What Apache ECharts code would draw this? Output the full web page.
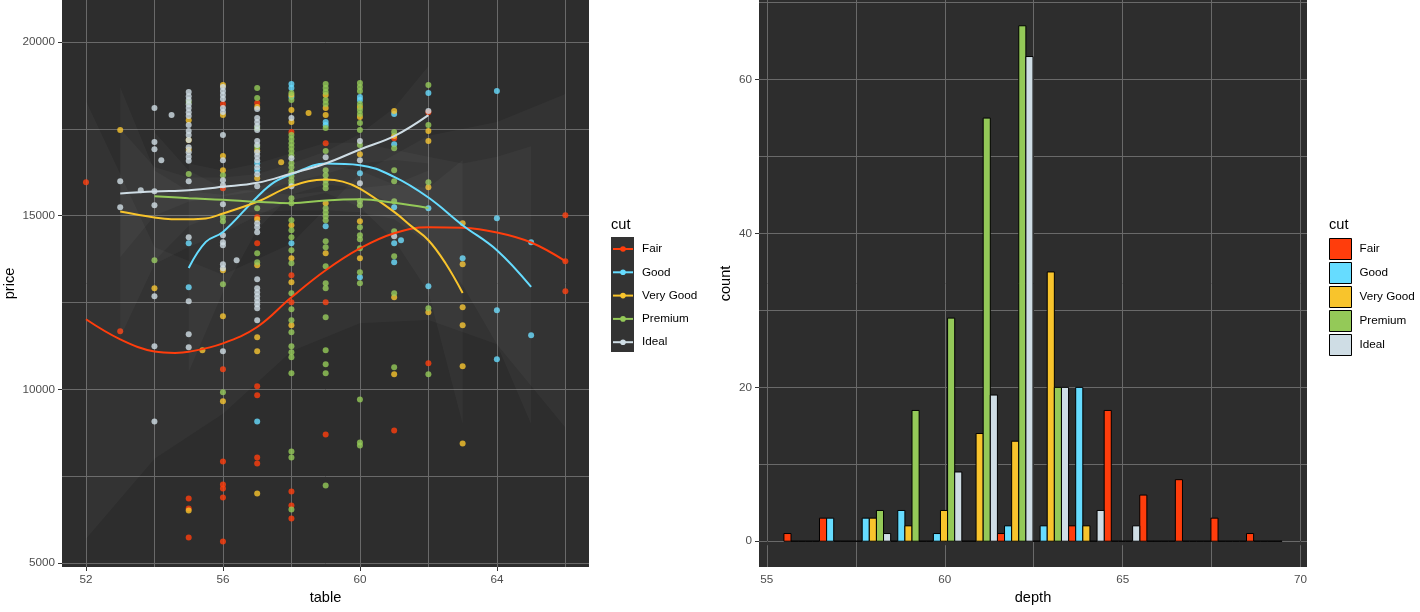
<!DOCTYPE html>
<html lang="en">
<head>
  <meta charset="UTF-8">
  <title>table / depth by cut</title>
  <script src="https://cdn.jsdelivr.net/npm/echarts@6/dist/echarts.min.js"></script>
  <style>
    html, body { margin: 0; padding: 0; background: #fff; }
    #main { width: 1420px; height: 612px; }
  </style>
</head>
<body>
<div id="main"></div>
<script>
  // categories
  const cuts = ['Fair', 'Good', 'Very Good', 'Premium', 'Ideal'];
  const cutColors = ['#ff3d0c', '#66dcff', '#f8c42c', '#94c958', '#cfdde5'];

  // left panel: points [table, price]
  const fairPts = [[52,15965],[53,11671],[55,6858],[55,6570],[55,5734],[56,18213],[56,15792],[56,10576],[56,7924],[56,7262],[56,7146],[56,6887],[56,5619],
    [57,18242],[57,14957],[57,14207],[57,10086],[57,9827],[57,8040],[57,7867],[58,17406],[58,13285],[58,12507],[58,7060],[58,6656],[58,6282],
    [59,17089],[59,12507],[59,8702],[61,17233],[61,8817],[62,17980],[62,10749],[66,15014],[66,13688],[66,12824]];
  const goodPts = [[55,14207],[55,12939],[57,16513],[57,16311],[57,9077],[58,18790],[58,18674],[58,18415],[58,14207],[59,17694],[59,17608],[59,14697],
    [60,18415],[60,18328],[60,16225],[60,13227],[61,17925],[61,17060],[61,15245],[61,14207],[61,13660],[61.2,14294],[62,18530],[62,15216],[62,12968],
    [63,13775],[64,18588],[64,14928],[64,12276],[64,10864],[65,14236],[65,11555]];
  const veryGoodPts = [[53,17464],[54,12910],[55,17750],[55,17180],[55,16900],[55.4,11123],[55,6513],[56,18761],[56,17896],[56,16715],[56,16311],[56,13429],
    [56,12103],[56,9654],[57,18127],[57,16887],[57,16081],[57,14899],[57,13573],[57,11498],[57,11095],[57,7002],[58,18473],[58,18040],[58,17694],
    [58,14726],[58,13775],[58,13083],[58,11844],[58.5,17954],[57.7,16542],[59,18473],[59,18098],[59,17900],[59,15360],[59,13919],[60,18127],[60,17839],
    [60,16772],[60,14841],[60,13775],[61,18011],[61,17291],[61,12651],[61,10432],[62,17435],[62,17147],[62,15821],[62,12219],[63,14784],[63,13602],
    [63,12363],[63,11844],[63,10662],[63,8443]];
  const premiumPts = [[54,13717],[55,18270],[55,16200],[56,16167],[56,14957],[56,14841],[56,13026],[56,9913],
    [57,18674],[57,18386],[57,17522],[57,16974],[57,15216],[57,13919],[57,13660],
    [58,18530],[58,18328],[58,17320],[58,17205],[58,17089],[58,16974],[58,16859],[58,16743],[58,16513],[58,16398],[58,16253],[58,16138],[58,16023],
    [58,15936],[58,15504],[58,15360],[58,14870],[58,14582],[58,14380],[58,14005],[58,13631],[58,12766],[58,12305],[58,11988],[58,11642],[58,11239],
    [58,11066],[58,10922],[58,10461],[58,8213],[58,8040],[58,6541],
    [59,18790],[59,18674],[59,18559],[59,18328],[59,18213],[59,17522],[59,16859],[59,16311],[59,16167],[59,16023],[59,15908],[59,15792],[59,15216],
    [59,15101],[59,14985],[59,14870],[59,14265],[59,14092],[59,13544],[59,13054],[59,12910],[59,12074],[59,11123],[59,10720],[59,10461],[59,7233],
    [60,18818],[60,18703],[60,18588],[60,18213],[60,18040],[60,17925],[60,17666],[60,17464],[60,17032],[60,15418],[60,15302],[60,14668],[60,14438],
    [60,14323],[60,14063],[60,13371],[60,13054],[60,9711],[60,8472],[60,8386],
    [61,17406],[61,16945],[61,16311],[61,15994],[61,15418],[61,14553],[61,13833],[61,12766],[61,10633],
    [62,18761],[62,17608],[62,15965],[62,12334],[62,10432]];
  const idealPts = [[53,15994],[53,15244],[53.6,15735],[54,18098],[54,17118],[54,16916],[54,15706],[54,15302],[54,12680],[54,11240],[54,9077],[54.2,16599],[54.5,17896],
    [55,18560],[55,18440],[55,18330],[55,18210],[55,18100],[55,17980],[55,17870],[55,17610],[55,17440],[55,17320],[55,17180],[55,16970],[55,16830],
    [55,16700],[55,16580],[55,15990],[55,14380],[55,12536],[55,11584],[55,11210],
    [56,18703],[56,18588],[56,18473],[56,18357],[56,18098],[56,17983],[56,17320],[56,16599],[56,16023],[56,15879],[56,15331],[56,14438],[56,14236],
    [56,14150],[56,13602],[56,13487],[56,11095],[56.4,13717],
    [57,18069],[57,17810],[57,17694],[57,17579],[57,17464],[57,17147],[57,17032],[57,16830],[57,16715],[57,16599],[57,16398],[57,16196],[57,15850],
    [57,14784],[57,14668],[57,14524],[57,13170],[57,12910],[57,12795],[57,12680],[57,12564],[57,12449],[57,12334],[57,11988],
    [58,17810],[58,16657],[58,15850],[59,16686],[60,17147],[60,16599],[60,15936],[61,14409],[62,18011]];
  const pointSets = [fairPts, goodPts, veryGoodPts, premiumPts, idealPts];

  // left panel: smoothed fits [table, price]
  const fairFit = [[52,12017],[53,11440],[54,11090],[54.6,11050],[55,11080],[56,11325],[57,11795],[58,12650],[59,13430],[60,14060],[61,14495],[62,14668],[63,14650],[64,14515],[65,14227],[66,13690]];
  const goodFit = [[55,13495],[55.5,14245],[56,14530],[57,15540],[57.5,15965],[58,16190],[59,16500],[60,16455],[61,16118],[62,15524],[63,14726],[64,14005],[65,12948]];
  const veryGoodFit = [[53,15120],[54,14948],[54.5,14900],[55,14899],[55.5,14920],[56,15064],[57,15400],[58,15850],[59,16040],[59.5,15980],[60,15782],[61,15110],[61.5,14700],[62,14294],[62.5,13631],[63,12776]];
  const premiumFit = [[54,15560],[55,15504],[56,15460],[57,15398],[58,15360],[59,15440],[60,15470],[61,15370],[62,15220]];
  const idealFit = [[53,15640],[54,15697],[55,15735],[56,15830],[57,15946],[58,16215],[59,16504],[60,16907],[61,17290],[62,17896]];
  const fitSets = [fairFit, goodFit, veryGoodFit, premiumFit, idealFit];

  // left panel: confidence bands (table, lower, upper)
  const fairBandX = [52, 54, 56, 58, 60, 62, 64, 66];
  const fairBandLo = [5700, 8000, 9300, 11100, 11900, 12000, 11300, 8900];
  const fairBandHi = [18300, 14100, 13300, 14200, 16200, 17300, 17700, 18500];
  const goodBandX = [55, 56, 57, 58, 59, 60, 61, 62, 63, 64, 65];
  const goodBandLo = [10500, 12800, 14600, 15600, 15900, 15800, 15300, 14300, 13000, 11300, 9000];
  const goodBandHi = [16500, 16300, 16500, 16800, 17100, 17100, 16900, 16700, 16500, 16700, 17000];
  const veryGoodBandX = [53, 54, 55, 56, 57, 58, 59, 60, 61, 62, 63];
  const veryGoodBandLo = [11500, 13600, 14100, 14500, 15000, 15450, 15650, 15250, 14300, 12800, 9000];
  const veryGoodBandHi = [18700, 16300, 15700, 15600, 15800, 16250, 16450, 16300, 15900, 15800, 16600];
  const premiumBandX = [54, 55, 56, 57, 58, 59, 60, 61, 62];
  const premiumBandLo = [13700, 14700, 15100, 15100, 15150, 15150, 15100, 14900, 14200];
  const premiumBandHi = [17400, 16300, 15800, 15700, 15600, 15700, 15800, 15900, 16300];
  const idealBandX = [53, 54, 55, 56, 57, 58, 59, 60, 61, 62];
  const idealBandLo = [13800, 15000, 15400, 15550, 15700, 15950, 16200, 16500, 16600, 16500];
  const idealBandHi = [17500, 16400, 16100, 16100, 16200, 16500, 16850, 17350, 18100, 19300];
  const bandSets = [
    [fairBandX, fairBandLo, fairBandHi],
    [goodBandX, goodBandLo, goodBandHi],
    [veryGoodBandX, veryGoodBandLo, veryGoodBandHi],
    [premiumBandX, premiumBandLo, premiumBandHi],
    [idealBandX, idealBandLo, idealBandHi]
  ];

  // right panel: depth histogram, bin lower edges and counts per cut
  const depthBinStart = [55.48, 56.48, 57.48, 58.48, 59.48, 60.48, 61.48, 62.48, 63.48, 64.48, 65.48, 66.48, 67.48, 68.48];
  const depthBinWidth = 1;
  const fairCount     = [1, 3, 0, 0, 0, 0, 1, 0, 2, 17, 6, 8, 3, 1];
  const goodCount     = [0, 3, 3, 4, 1, 0, 2, 2, 20, 0, 0, 0, 0, 0];
  const veryGoodCount = [0, 0, 3, 2, 4, 14, 13, 35, 2, 0, 0, 0, 0, 0];
  const premiumCount  = [0, 0, 4, 17, 29, 55, 67, 20, 0, 0, 0, 0, 0, 0];
  const idealCount    = [0, 0, 1, 0, 9, 19, 63, 20, 4, 2, 0, 0, 0, 0];
  const countSets = [fairCount, goodCount, veryGoodCount, premiumCount, idealCount];

  // tick labels
  const tableMajor = [52, 56, 60, 64];
  const tableMinor = [54, 58, 62, 66];
  const priceMajor = [5000, 10000, 15000, 20000];
  const priceMinor = [7500, 12500, 17500];
  const depthMajor = [55, 60, 65, 70];
  const depthMinor = [57.5, 62.5, 67.5];
  const countMajor = [0, 20, 40, 60];
  const countMinor = [10, 30, 50, 70];

  const font = '"Liberation Sans", Arial, sans-serif';
  const gridColor = '#696969';

  function axisPair(gridIndex, min, max, major, minor, name, nameGap) {
    const main = {
      type: 'value', gridIndex: gridIndex, min: min, max: max,
      axisLine: { show: false },
      axisTick: { show: true, length: 4, customValues: major, lineStyle: { color: '#333' } },
      axisLabel: {
        customValues: major, color: '#4d4d4d', fontSize: 11.7, fontFamily: font, margin: 7,
        formatter: function (v) { return String(v); }
      },
      splitLine: { show: true, lineStyle: { color: gridColor, width: 1 } },
      name: name, nameLocation: 'middle', nameGap: nameGap,
      nameTextStyle: { color: '#000', fontSize: 14.6, fontFamily: font }
    };
    // second axis only carries the minor grid lines
    const sub = {
      type: 'value', gridIndex: gridIndex, min: min, max: max,
      axisLine: { show: false },
      axisTick: { show: false, customValues: minor },
      axisLabel: { show: false },
      splitLine: { show: true, lineStyle: { color: gridColor, width: 1 } }
    };
    return [main, sub];
  }

  const xAxes = axisPair(0, 51.3, 66.69, tableMajor, tableMinor, 'table', 22)
    .concat(axisPair(1, 54.78, 70.18, depthMajor, depthMinor, 'depth', 22));
  const yAxes = axisPair(0, 4885, 21210, priceMajor, priceMinor, 'price', 45)
    .concat(axisPair(1, -3.35, 70.35, countMajor, countMinor, 'count', 26));

  const series = [];
  // fitted lines first so the left legend takes their icon
  cuts.forEach(function (cut, i) {
    series.push({
      name: cut, type: 'line', xAxisIndex: 0, yAxisIndex: 0, z: 5,
      data: fitSets[i], smooth: 0.4, symbol: 'circle', showSymbol: false,
      lineStyle: { color: cutColors[i], width: 2 },
      itemStyle: { color: cutColors[i] }
    });
  });
  cuts.forEach(function (cut, i) {
    series.push({
      name: cut, type: 'scatter', xAxisIndex: 0, yAxisIndex: 0, z: 2,
      data: pointSets[i], symbolSize: 6,
      itemStyle: { color: cutColors[i], opacity: 0.8 }
    });
  });
  cuts.forEach(function (cut, i) {
    const b = bandSets[i];
    series.push({
      name: cut, type: 'custom', xAxisIndex: 0, yAxisIndex: 0, z: 3,
      data: [[b[0][0], b[1][0], b[2][0]]],
      renderItem: function (params, api) {
        const pts = [];
        for (let k = 0; k < b[0].length; k++) pts.push(api.coord([b[0][k], b[2][k]]));
        for (let k = b[0].length - 1; k >= 0; k--) pts.push(api.coord([b[0][k], b[1][k]]));
        return { type: 'polygon', shape: { points: pts }, style: { fill: 'rgba(255,255,255,0.03)' } };
      },
      silent: true
    });
  });
  // dodged histogram bars
  cuts.forEach(function (cut, i) {
    const w = depthBinWidth / cuts.length;
    const color = cutColors[i];
    series.push({
      name: 'h:' + cut, type: 'custom', xAxisIndex: 2, yAxisIndex: 2, z: 2,
      itemStyle: { color: color, borderColor: '#000', borderWidth: 1 },
      encode: { x: [0, 1], y: 2 },
      data: depthBinStart.map(function (s, k) { return [s + i * w, s + (i + 1) * w, countSets[i][k]]; }),
      renderItem: function (params, api) {
        const p0 = api.coord([api.value(0), 0]);
        const p1 = api.coord([api.value(1), api.value(2)]);
        return {
          type: 'rect',
          shape: { x: p0[0], y: p1[1], width: p1[0] - p0[0], height: p0[1] - p1[1] },
          style: { fill: color, stroke: '#000', lineWidth: 1 }
        };
      }
    });
  });

  const chart = echarts.init(document.getElementById('main'));
  chart.setOption({
    animation: false,
    backgroundColor: '#fff',
    textStyle: { fontFamily: font },
    grid: [
      { left: 62, top: 0, width: 527, height: 567, show: true, backgroundColor: '#2d2d2d', borderWidth: 0 },
      { left: 759, top: 0, width: 548, height: 567, show: true, backgroundColor: '#2d2d2d', borderWidth: 0 }
    ],
    xAxis: xAxes,
    yAxis: yAxes,
    graphic: [
      { type: 'rect', left: 611, top: 237, shape: { width: 23, height: 115 }, style: { fill: '#333333' }, z: 0 },
      { type: 'text', left: 611, top: 217, style: { text: 'cut', fontSize: 14.6, fontFamily: font, fill: '#000' } },
      { type: 'text', left: 1329, top: 217, style: { text: 'cut', fontSize: 14.6, fontFamily: font, fill: '#000' } }
    ],
    legend: [
      {
        data: cuts, orient: 'vertical', left: 612, top: 243, padding: 0,
        itemWidth: 20, itemHeight: 7, itemGap: 11.3, selectedMode: false,
        textStyle: { fontSize: 11.7, color: '#000', fontFamily: font, padding: [0, 0, 0, 4] }
      },
      {
        data: cuts.map(function (c) { return 'h:' + c; }), orient: 'vertical', left: 1329, top: 238, padding: 0,
        icon: 'rect', itemWidth: 22, itemHeight: 21, itemGap: 2, selectedMode: false,
        itemStyle: { borderColor: '#000', borderWidth: 1 },
        formatter: function (n) { return n.slice(2); },
        textStyle: { fontSize: 11.7, color: '#000', fontFamily: font, padding: [0, 0, 0, 3] }
      }
    ],
    series: series
  });
</script>
</body>
</html>
